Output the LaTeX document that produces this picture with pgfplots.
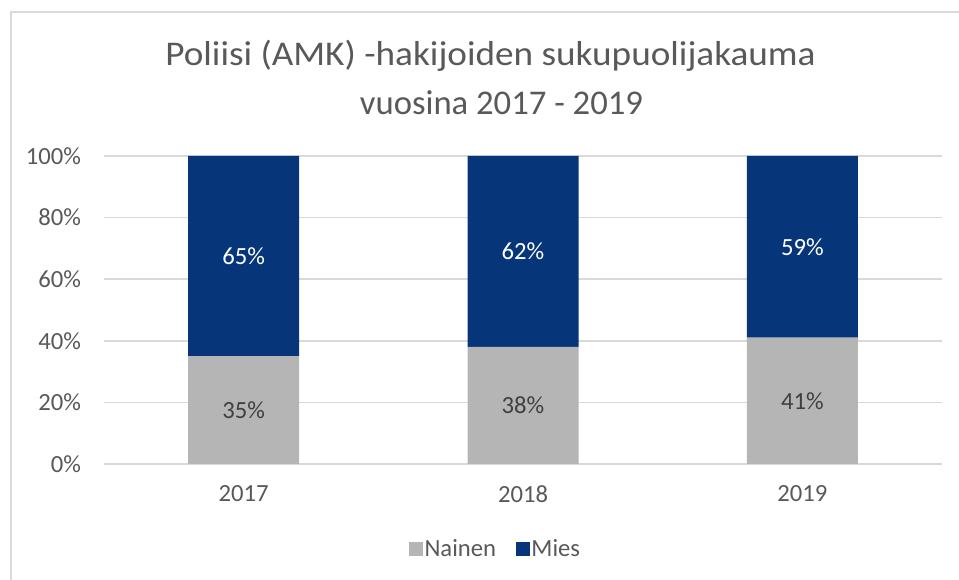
\documentclass[border=0pt]{standalone}
\usepackage{pgfplots}
\pgfplotsset{compat=1.18}
\usepackage{fontspec}
\setmainfont{Carlito}
\definecolor{nainen}{HTML}{B5B5B5}
\definecolor{mies}{HTML}{063579}
\definecolor{txt}{HTML}{595959}
\definecolor{lab}{HTML}{404040}
\definecolor{gridc}{HTML}{D9D9D9}
\begin{document}
\begin{tikzpicture}
\path[use as bounding box] (0,0) rectangle (719.25pt,435pt);
\draw[gridc, line width=1.2pt] (8.25pt,0) -- (8.25pt,426pt) -- (719.25pt,426pt);
\node[anchor=base, text=txt, font=\fontsize{26}{30}\selectfont, inner sep=0pt] at (367.9pt,385.5pt) {\scalebox{1.074}[1]{Poliisi (AMK) -hakijoiden sukupuolijakauma}};
\node[anchor=base, text=txt, font=\fontsize{26}{30}\selectfont, inner sep=0pt] at (376.1pt,348.75pt) {vuosina 2017 - 2019};
\begin{axis}[
  at={(78pt,87pt)}, anchor=south west,
  width=628.5pt, height=231pt, scale only axis,
  ybar stacked, bar width=83.25pt,
  xmin=-0.5, xmax=2.5, ymin=0, ymax=100,
  xtick={0,1,2}, xticklabels={2017,2018,2019},
  ytick={0,20,40,60,80,100}, yticklabels={0\%,20\%,40\%,60\%,80\%,100\%},
  axis line style={draw=none},
  major tick style={draw=none},
  ymajorgrids, grid style={gridc, line width=1.1pt},
  ticklabel style={font=\fontsize{18.5}{22}\selectfont, text=txt},
  yticklabel style={anchor=east, inner sep=0pt, xshift=-17pt},
  xticklabel style={anchor=center, inner sep=0pt, yshift=-22.5pt},
  legend style={draw=none, fill=none, at={(0.467,-0.276)}, anchor=center,
    font=\fontsize{18.5}{22}\selectfont, text=txt, inner sep=0pt,
    /tikz/every even column/.append style={column sep=14pt},
    nodes={inner sep=1pt}},
  legend columns=2,
  legend cell align=left,
  clip=false,
]
\addplot[fill=nainen, draw=none,
  legend image code/.code={\fill[nainen] (0pt,-5.25pt) rectangle (10.5pt,5.25pt);},
  visualization depends on={rawy \as \myval},
  nodes near coords={\pgfmathprintnumber[assume math mode=true,fixed,precision=0]{\myval}\%},
  every node near coord/.append style={text=lab, anchor=center, font=\fontsize{18.5}{22}\selectfont}]
  coordinates {(0,35) (1,38) (2,41)};
\addplot[fill=mies, draw=none,
  legend image code/.code={\fill[mies] (0pt,-5.25pt) rectangle (10.5pt,5.25pt);},
  visualization depends on={rawy \as \myval},
  nodes near coords={\pgfmathprintnumber[assume math mode=true,fixed,precision=0]{\myval}\%},
  every node near coord/.append style={text=white, anchor=center, font=\fontsize{18.5}{22}\selectfont}]
  coordinates {(0,65) (1,62) (2,59)};
\legend{Nainen, Mies}
\end{axis}
\end{tikzpicture}
\end{document}
